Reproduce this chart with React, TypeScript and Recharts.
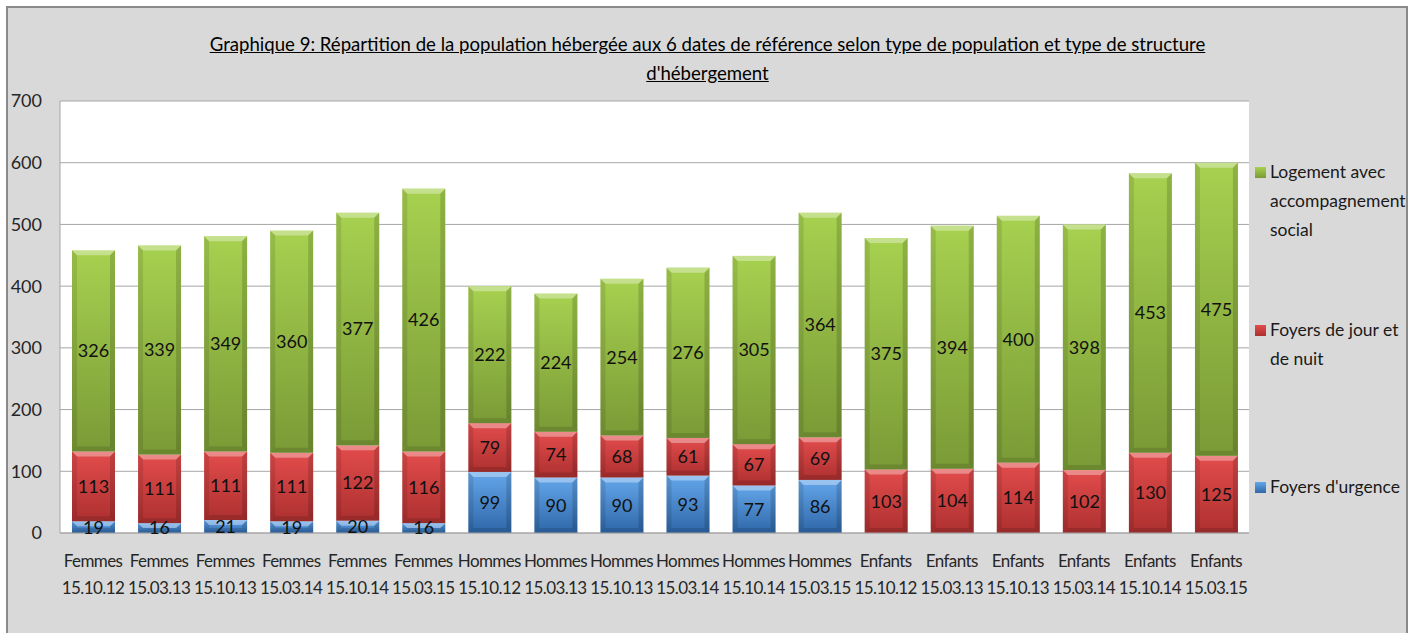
import { BarChart, Bar, XAxis, YAxis, CartesianGrid, LabelList } from "recharts";

const groups = ["Femmes", "Femmes", "Femmes", "Femmes", "Femmes", "Femmes",
  "Hommes", "Hommes", "Hommes", "Hommes", "Hommes", "Hommes",
  "Enfants", "Enfants", "Enfants", "Enfants", "Enfants", "Enfants"];
const dates = ["15.10.12", "15.03.13", "15.10.13", "15.03.14", "15.10.14", "15.03.15",
  "15.10.12", "15.03.13", "15.10.13", "15.03.14", "15.10.14", "15.03.15",
  "15.10.12", "15.03.13", "15.10.13", "15.03.14", "15.10.14", "15.03.15"];
const urgence = [19, 16, 21, 19, 20, 16, 99, 90, 90, 93, 77, 86, 0, 0, 0, 0, 0, 0];
const jourNuit = [113, 111, 111, 111, 122, 116, 79, 74, 68, 61, 67, 69, 103, 104, 114, 102, 130, 125];
const logement = [326, 339, 349, 360, 377, 426, 222, 224, 254, 276, 305, 364, 375, 394, 400, 398, 453, 475];
const yTicks = [0, 100, 200, 300, 400, 500, 600, 700];

const titleLines = [
  "Graphique 9: Répartition de la population hébergée aux 6 dates de référence selon type de population et type de structure",
  "d'hébergement",
];

const series = [
  { key: "urgence", name: "Foyers d'urgence", top: "#64a6ea", bottom: "#2e67a8" },
  { key: "jourNuit", name: "Foyers de jour et de nuit", top: "#e34c4c", bottom: "#ad3030" },
  { key: "logement", name: "Logement avec accompagnement social", top: "#a7d150", bottom: "#7a9a36" },
];

const data = groups.map((g, i) => ({
  name: `${g} ${dates[i]}`,
  group: g,
  date: dates[i],
  urgence: urgence[i],
  jourNuit: jourNuit[i],
  logement: logement[i],
}));

const FONT = "Lato, 'Open Sans', sans-serif";

// bar with a simple bevel, like the Excel preset
const BevelBar = (props: any) => {
  const { x, y, width, height, gid } = props;
  if (!height || height <= 0) return null;
  const b = Math.min(5, height / 2);
  return (
    <g>
      <rect x={x} y={y} width={width} height={height} fill={`url(#${gid})`} />
      <polygon
        points={`${x},${y} ${x + width},${y} ${x + width - b},${y + b} ${x + b},${y + b}`}
        fill="#fff"
        opacity={0.35}
      />
      <polygon
        points={`${x},${y} ${x + b},${y + b} ${x + b},${y + height - b} ${x},${y + height}`}
        fill="#000"
        opacity={0.1}
      />
      <polygon
        points={`${x + width},${y} ${x + width - b},${y + b} ${x + width - b},${y + height - b} ${x + width},${y + height}`}
        fill="#000"
        opacity={0.15}
      />
      <polygon
        points={`${x},${y + height} ${x + b},${y + height - b} ${x + width - b},${y + height - b} ${x + width},${y + height}`}
        fill="#000"
        opacity={0.12}
      />
    </g>
  );
};

const XTick = (props: any) => {
  const { x, y, payload, index } = props;
  return (
    <text x={x} y={y} textAnchor="middle" fill="#262626" fontSize={17} letterSpacing={-0.6} fontFamily={FONT}>
      <tspan x={x} dy={26}>{groups[index] ?? payload.value}</tspan>
      <tspan x={x} dy={27}>{dates[index]}</tspan>
    </text>
  );
};

const legendItems = [
  { s: series[2], lines: ["Logement avec", "accompagnement", "social"], top: 157 },
  { s: series[1], lines: ["Foyers de jour et", "de nuit"], top: 315 },
  { s: series[0], lines: ["Foyers d'urgence"], top: 472 },
];

export default function App() {
  return (
    <div style={{ position: "absolute", left: 0, top: 0, width: 1419, height: 633, overflow: "hidden", background: "#fff" }}>
      <div
        style={{
          position: "absolute",
          left: 6,
          top: 6,
          width: 1398,
          height: 660,
          border: "2px solid #8a8a8a",
          background: "#d9d9d9",
        }}
      />
      <div
        style={{
          position: "absolute",
          left: 0,
          top: 30,
          width: 1415,
          textAlign: "center",
          fontFamily: FONT,
          fontSize: 18.6,
          lineHeight: "29px",
          color: "#000",
          textDecoration: "underline",
        }}
      >
        {titleLines.map((l) => (
          <div key={l}>{l}</div>
        ))}
      </div>
      <div style={{ position: "absolute", left: 0, top: 0 }}>
        <BarChart
          width={1419}
          height={633}
          data={data}
          margin={{ top: 101, right: 170, bottom: 40, left: 0 }}
          barSize={43}
        >
          <defs>
            {series.map((s) => (
              <linearGradient key={s.key} id={`g-${s.key}`} x1="0" y1="0" x2="0" y2="1">
                <stop offset="0%" stopColor={s.top} />
                <stop offset="100%" stopColor={s.bottom} />
              </linearGradient>
            ))}
          </defs>
          <CartesianGrid vertical={false} stroke="#a6a6a6" fill="#ffffff" />
          <XAxis
            dataKey="name"
            interval={0}
            height={60}
            axisLine={{ stroke: "#a6a6a6" }}
            tickLine={false}
            tick={<XTick />}
          />
          <YAxis
            width={60}
            domain={[0, 700]}
            ticks={yTicks}
            axisLine={{ stroke: "#a6a6a6" }}
            tickLine={false}
            tickSize={0}
            tickMargin={18}
            tick={{ fill: "#262626", fontSize: 18, fontFamily: FONT }}
          />
          {series.map((s) => (
            <Bar
              key={s.key}
              dataKey={s.key}
              name={s.name}
              stackId="a"
              isAnimationActive={false}
              shape={(p: any) => <BevelBar {...p} gid={`g-${s.key}`} />}
            >
              <LabelList
                dataKey={s.key}
                position="center"
                fill="#111"
                fontSize={18}
                fontFamily={FONT}
                formatter={(v: any) => (v ? String(v) : "")}
              />
            </Bar>
          ))}
        </BarChart>
      </div>
      {legendItems.map((it) => (
        <div
          key={it.s.key}
          style={{
            position: "absolute",
            left: 1253,
            top: it.top,
            fontFamily: FONT,
            fontSize: 17.5,
            lineHeight: "29px",
            color: "#1a1a1a",
          }}
        >
          <span
            style={{
              position: "absolute",
              left: 2,
              top: 10,
              width: 11,
              height: 11,
              background: `linear-gradient(${it.s.top}, ${it.s.bottom})`,
            }}
          />
          {it.lines.map((l) => (
            <div key={l} style={{ paddingLeft: 17 }}>{l}</div>
          ))}
        </div>
      ))}
    </div>
  );
}
